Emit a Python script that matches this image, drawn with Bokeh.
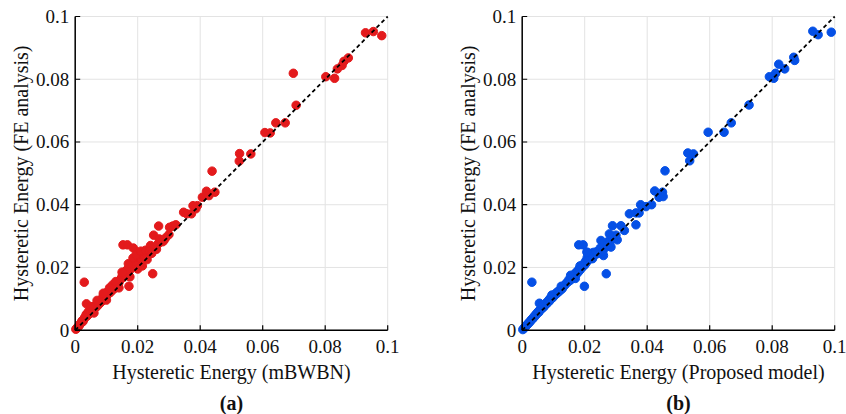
import math
from bokeh.plotting import figure
from bokeh.layouts import row
from bokeh.models import Range1d
from bokeh.core.properties import value
from bokeh.embed import file_html
from bokeh.resources import INLINE

# ---------------- data: panel (a) mBWBN vs FE ----------------
a_x = [0.0002, 0.0005, 0.0008, 0.0010, 0.0013, 0.0015, 0.0018, 0.0020, 0.0022, 0.0025,
       0.0028, 0.0030, 0.0033, 0.0035, 0.0038, 0.0040, 0.0043, 0.0045, 0.0048, 0.0050,
       0.0053, 0.0055, 0.0058, 0.0060, 0.0063, 0.0065, 0.0068, 0.0070, 0.0073, 0.0075,
       0.0078, 0.0080, 0.0083, 0.0085, 0.0088, 0.0090, 0.0093, 0.0095, 0.0098, 0.0100,
       0.0105, 0.0108, 0.0112, 0.0115, 0.0120, 0.0125, 0.0128, 0.0130, 0.0135, 0.0140,
       0.0143, 0.0148, 0.0150, 0.0153, 0.0155, 0.0158, 0.0160, 0.0162, 0.0165, 0.0168,
       0.0170, 0.0172, 0.0175, 0.0177, 0.0180, 0.0182, 0.0185, 0.0188, 0.0190, 0.0192,
       0.0195, 0.0198, 0.0200, 0.0203, 0.0205, 0.0208, 0.0210, 0.0213, 0.0215, 0.0218,
       0.0220, 0.0225, 0.0228, 0.0232, 0.0235, 0.0240, 0.0245, 0.0250, 0.0255, 0.0260,
       0.0265, 0.0270, 0.0275, 0.0280, 0.0290, 0.0300,
       0.0929, 0.0954, 0.0981, 0.0698, 0.0707, 0.0802, 0.0830, 0.0839, 0.0854, 0.0860,
       0.0874, 0.0607, 0.0624, 0.0642, 0.0672, 0.0526, 0.0525, 0.0562, 0.0438, 0.0407,
       0.0420, 0.0428, 0.0447, 0.0347, 0.0357, 0.0372, 0.0377, 0.0391, 0.0386, 0.0302,
       0.0312, 0.0322, 0.0267, 0.0251, 0.0248, 0.0284, 0.0269, 0.0241, 0.0153, 0.0167,
       0.0186, 0.0172, 0.0029, 0.0036, 0.0120, 0.0165, 0.0190, 0.0205, 0.0218,
       0.0050, 0.0070, 0.0090, 0.0110, 0.0130, 0.0150, 0.0170, 0.0185, 0.0195, 0.0210,
       0.0225, 0.0240, 0.0060, 0.0100, 0.0140, 0.0175, 0.0200, 0.0215, 0.0230, 0.0238,
       0.0245]
a_y = [0.0003, 0.0006, 0.0010, 0.0012, 0.0015, 0.0019, 0.0022, 0.0025, 0.0030, 0.0028,
       0.0035, 0.0040, 0.0042, 0.0050, 0.0045, 0.0055, 0.0060, 0.0052, 0.0062, 0.0058,
       0.0068, 0.0062, 0.0072, 0.0070, 0.0078, 0.0072, 0.0082, 0.0076, 0.0088, 0.0082,
       0.0092, 0.0087, 0.0098, 0.0092, 0.0100, 0.0110, 0.0105, 0.0115, 0.0108, 0.0120,
       0.0115, 0.0125, 0.0120, 0.0130, 0.0128, 0.0140, 0.0135, 0.0148, 0.0150, 0.0152,
       0.0160, 0.0165, 0.0172, 0.0168, 0.0178, 0.0182, 0.0175, 0.0188, 0.0190, 0.0185,
       0.0195, 0.0200, 0.0192, 0.0205, 0.0210, 0.0200, 0.0215, 0.0208, 0.0220, 0.0212,
       0.0225, 0.0218, 0.0230, 0.0222, 0.0240, 0.0228, 0.0245, 0.0235, 0.0242, 0.0232,
       0.0248, 0.0240, 0.0245, 0.0238, 0.0248, 0.0245, 0.0250, 0.0255, 0.0262, 0.0258,
       0.0275, 0.0280, 0.0285, 0.0282, 0.0295, 0.0305,
       0.0948, 0.0952, 0.0939, 0.0819, 0.0717, 0.0808, 0.0803, 0.0833, 0.0844, 0.0857,
       0.0868, 0.0630, 0.0629, 0.0661, 0.0661, 0.0563, 0.0539, 0.0562, 0.0507, 0.0424,
       0.0443, 0.0429, 0.0440, 0.0376, 0.0371, 0.0371, 0.0397, 0.0397, 0.0387, 0.0328,
       0.0332, 0.0336, 0.0332, 0.0303, 0.0180, 0.0286, 0.0291, 0.0270, 0.0272, 0.0272,
       0.0262, 0.0140, 0.0153, 0.0084, 0.0145, 0.0192, 0.0212, 0.0232, 0.0238,
       0.0075, 0.0095, 0.0118, 0.0135, 0.0155, 0.0185, 0.0212, 0.0230, 0.0240, 0.0252,
       0.0255, 0.0262, 0.0055, 0.0096, 0.0135, 0.0170, 0.0195, 0.0205, 0.0225, 0.0252,
       0.0245]

# ---------------- data: panel (b) Proposed model vs FE ----------------
b_x = [0.0002, 0.0005, 0.0008, 0.0010, 0.0013, 0.0015, 0.0018, 0.0020, 0.0023, 0.0025,
       0.0028, 0.0030, 0.0033, 0.0035, 0.0038, 0.0040, 0.0043, 0.0045, 0.0048, 0.0050,
       0.0053, 0.0055, 0.0058, 0.0060, 0.0063, 0.0065, 0.0068, 0.0070, 0.0073, 0.0075,
       0.0078, 0.0080, 0.0083, 0.0085, 0.0088, 0.0090, 0.0093, 0.0095, 0.0098, 0.0100,
       0.0105, 0.0108, 0.0112, 0.0115, 0.0120, 0.0125, 0.0128, 0.0130, 0.0135, 0.0140,
       0.0143, 0.0148, 0.0150, 0.0155, 0.0158, 0.0160, 0.0165, 0.0168, 0.0170, 0.0175,
       0.0178, 0.0180, 0.0183, 0.0185, 0.0188, 0.0190, 0.0193, 0.0195, 0.0198, 0.0200,
       0.0203, 0.0205, 0.0208, 0.0210, 0.0213, 0.0215, 0.0218, 0.0220, 0.0225, 0.0228,
       0.0232, 0.0235, 0.0240, 0.0245, 0.0250, 0.0255, 0.0260, 0.0265, 0.0270, 0.0275,
       0.0280, 0.0290, 0.0300,
       0.0930, 0.0947, 0.0989, 0.0791, 0.0805, 0.0811, 0.0821, 0.0840, 0.0869, 0.0872,
       0.0726, 0.0669, 0.0646, 0.0595, 0.0530, 0.0548, 0.0536, 0.0457, 0.0424, 0.0449,
       0.0438, 0.0451, 0.0343, 0.0364, 0.0379, 0.0374, 0.0396, 0.0414, 0.0364, 0.0289,
       0.0316, 0.0327, 0.0279, 0.0304, 0.0252, 0.0268, 0.0284, 0.0260, 0.0269, 0.0181,
       0.0195, 0.0199, 0.0031, 0.0055, 0.0207,
       0.0065, 0.0095, 0.0125, 0.0155, 0.0185, 0.0170, 0.0225, 0.0238, 0.0250, 0.0258]
b_y = [0.0002, 0.0005, 0.0009, 0.0011, 0.0014, 0.0017, 0.0020, 0.0022, 0.0026, 0.0027,
       0.0031, 0.0034, 0.0036, 0.0040, 0.0041, 0.0046, 0.0047, 0.0052, 0.0053, 0.0058,
       0.0057, 0.0063, 0.0064, 0.0068, 0.0069, 0.0074, 0.0073, 0.0080, 0.0079, 0.0085,
       0.0084, 0.0090, 0.0089, 0.0096, 0.0094, 0.0102, 0.0100, 0.0105, 0.0104, 0.0110,
       0.0112, 0.0118, 0.0118, 0.0124, 0.0125, 0.0133, 0.0132, 0.0140, 0.0142, 0.0148,
       0.0152, 0.0155, 0.0162, 0.0160, 0.0170, 0.0168, 0.0176, 0.0172, 0.0182, 0.0180,
       0.0190, 0.0186, 0.0196, 0.0192, 0.0202, 0.0198, 0.0208, 0.0204, 0.0212, 0.0208,
       0.0220, 0.0215, 0.0232, 0.0246, 0.0225, 0.0240, 0.0228, 0.0245, 0.0236, 0.0248,
       0.0240, 0.0246, 0.0244, 0.0252, 0.0255, 0.0262, 0.0258, 0.0270, 0.0276, 0.0283,
       0.0280, 0.0292, 0.0303,
       0.0953, 0.0942, 0.0950, 0.0808, 0.0803, 0.0819, 0.0848, 0.0833, 0.0870, 0.0860,
       0.0718, 0.0661, 0.0631, 0.0631, 0.0565, 0.0562, 0.0540, 0.0508, 0.0444, 0.0440,
       0.0424, 0.0426, 0.0371, 0.0374, 0.0400, 0.0374, 0.0394, 0.0400, 0.0336, 0.0333,
       0.0333, 0.0318, 0.0307, 0.0288, 0.0286, 0.0270, 0.0265, 0.0238, 0.0180, 0.0272,
       0.0272, 0.0140, 0.0153, 0.0086, 0.0249,
       0.0080, 0.0112, 0.0140, 0.0175, 0.0205, 0.0165, 0.0228, 0.0250, 0.0262, 0.0250]

AX_MIN, AX_MAX = 0.0, 0.1
diag = [AX_MIN, AX_MAX]
ticks = [0.0, 0.02, 0.04, 0.06, 0.08, 0.1]
tick_labels = ["0", "0.02", "0.04", "0.06", "0.08", "0.1"]
y_title = "Hysteretic Energy (FE analysis)"

# ---------------- layout constants (pixels) ----------------
FONT = value("Liberation Serif")
INK = "#111111"
PANEL_W, PANEL_H = 423, 414
PLOT_W, PLOT_H = 312.5, 313.7          # pixel size of the 0..0.1 square
PLOT_TOP = 16.0                        # pixel row of y = 0.1


def make_panel(xs, ys, color, xlabel, tag, left_px):
    sx = PLOT_W / (AX_MAX - AX_MIN)
    sy = PLOT_H / (AX_MAX - AX_MIN)
    bottom_px = PLOT_TOP + PLOT_H
    xr = Range1d(AX_MIN - left_px / sx, AX_MIN + (PANEL_W - left_px) / sx)
    yr = Range1d(AX_MIN - (PANEL_H - bottom_px) / sy, AX_MIN + bottom_px / sy)
    p = figure(width=PANEL_W, height=PANEL_H, x_range=xr, y_range=yr,
               output_backend="svg", toolbar_location=None,
               x_axis_location=None, y_axis_location=None,
               min_border=0, min_border_left=0, min_border_right=0,
               min_border_top=0, min_border_bottom=0)
    p.outline_line_color = None
    p.grid.visible = False

    zeros = [AX_MIN] * len(ticks)
    tops = [AX_MAX] * len(ticks)
    # grid
    p.segment(x0=ticks, y0=zeros, x1=ticks, y1=tops, line_color="#e3e3e3", line_width=1)
    p.segment(x0=zeros, y0=ticks, x1=tops, y1=ticks, line_color="#e3e3e3", line_width=1)

    # data
    p.scatter(xs, ys, size=8.5, fill_color=color, line_color=color)
    p.line(diag, diag, line_color="black", line_width=1.8, line_dash="4 3")

    # axes lines
    p.line(diag, [AX_MIN, AX_MIN], line_color="black", line_width=1.5)
    p.line([AX_MIN, AX_MIN], diag, line_color="black", line_width=1.5)
    # inward ticks
    p.ray(x=ticks, y=zeros, length=5, angle=math.pi / 2, length_units="screen",
          line_color="black", line_width=1.2)
    p.ray(x=zeros, y=ticks, length=5, angle=0, length_units="screen",
          line_color="black", line_width=1.2)

    # tick labels
    p.text(x=ticks, y=zeros, text=tick_labels, y_offset=16, text_align="center",
           text_baseline="middle", text_font=FONT, text_font_size=value("19px"),
           text_color=INK)
    p.text(x=zeros, y=ticks, text=tick_labels, x_offset=-6, text_align="right",
           text_baseline="middle", text_font=FONT, text_font_size=value("19px"),
           text_color=INK)

    mid = (AX_MIN + AX_MAX) / 2
    # x axis title
    p.text(x=[mid], y=[AX_MIN], text=[xlabel], y_offset=42, text_align="center",
           text_baseline="middle", text_font=FONT, text_font_size=value("20px"),
           text_color=INK)
    # y axis title (rotated), centred 54.7 px left of the y axis
    p.text(x=[AX_MIN - 54.7 / sx], y=[mid], text=[y_title], angle=math.pi / 2,
           text_align="center", text_baseline="middle", text_font=FONT,
           text_font_size=value("20px"), text_color=INK)
    # panel tag
    p.text(x=[mid], y=[AX_MIN], text=[tag], y_offset=73, text_align="center",
           text_baseline="middle", text_font=FONT, text_font_size=value("20px"),
           text_font_style="bold", text_color=INK)
    return p


pa = make_panel(a_x, a_y, "#E31A1C", "Hysteretic Energy (mBWBN)", "(a)", 74.7)
pb = make_panel(b_x, b_y, "#0550E6", "Hysteretic Energy (Proposed model)", "(b)", 98.7)

layout = row(pa, pb)
open("out.html", "w").write(file_html(layout, INLINE))
